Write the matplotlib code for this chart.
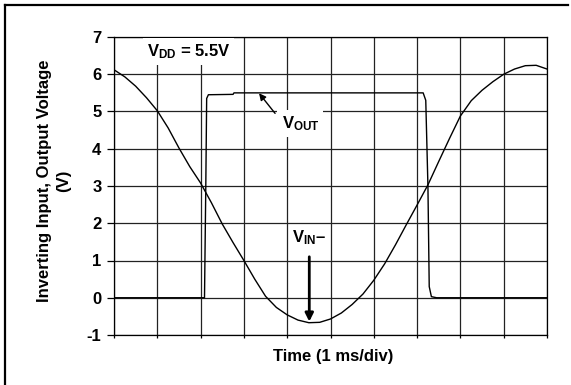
import matplotlib.pyplot as plt
from matplotlib.lines import Line2D

plt.rcParams['font.family'] = 'Liberation Sans'
plt.rcParams['font.weight'] = 'bold'
plt.rcParams['axes.unicode_minus'] = False
plt.rcParams['mathtext.fontset'] = 'custom'
plt.rcParams['mathtext.rm'] = 'Liberation Sans:bold'
plt.rcParams['mathtext.it'] = 'Liberation Sans:bold'
plt.rcParams['mathtext.bf'] = 'Liberation Sans:bold'

# inverting input (sine), time in divisions
time_in = [0.00, 0.25, 0.50, 0.75, 1.00, 1.25, 1.50, 1.75, 2.00, 2.25,
           2.50, 2.75, 3.00, 3.25, 3.50, 3.75, 4.00, 4.25, 4.50, 4.75,
           5.00, 5.25, 5.50, 5.75, 6.00, 6.25, 6.50, 6.75, 7.00, 7.25,
           7.50, 7.75, 8.00, 8.25, 8.50, 8.75, 9.00, 9.25, 9.50, 9.75, 10.00]
v_in = [6.12, 5.93, 5.68, 5.37, 5.02, 4.56, 4.02, 3.52, 3.08, 2.55,
        1.98, 1.48, 1.00, 0.50, 0.04, -0.26, -0.46, -0.60, -0.67, -0.66,
        -0.57, -0.41, -0.18, 0.10, 0.47, 0.91, 1.42, 1.96, 2.49, 3.03,
        3.66, 4.28, 4.88, 5.29, 5.57, 5.80, 6.00, 6.14, 6.23, 6.24, 6.14]

# output voltage (square)
time_out = [0, 2.09, 2.12, 2.14, 2.18, 2.75, 2.77, 7.14, 7.20, 7.25, 7.28, 7.33, 7.45, 10]
v_out = [0, 0, 3.0, 5.35, 5.45, 5.46, 5.5, 5.5, 5.3, 3.0, 0.3, 0.03, 0, 0]

y_ticks = [-1, 0, 1, 2, 3, 4, 5, 6, 7]
x_divs = list(range(11))

fig = plt.figure(figsize=(5.71, 3.85), dpi=100)
ax = fig.add_axes([114 / 571, 1 - 335 / 385, 433 / 571, 298 / 385])

ax.plot(time_in, v_in, color='black', lw=1, zorder=3)
ax.plot(time_out, v_out, color='black', lw=1, zorder=3)

ax.set_xlim(0, 10)
ax.set_ylim(-1, 7)
ax.set_xticks(x_divs)
ax.set_xticklabels([])
ax.set_yticks(y_ticks)
ax.grid(True, color='#222222', lw=0.9)
ax.set_axisbelow(True)
for s in ax.spines.values():
    s.set_linewidth(0.9)
ax.tick_params(axis='y', length=5, width=0.9, pad=4, labelsize=12)
ax.tick_params(axis='x', length=2, width=0.9)

fig.text(54 / 571, 1 - 181 / 385, 'Inverting Input, Output Voltage\n(V)',
         rotation=90, ha='center', va='center', multialignment='center',
         fontsize=12, fontweight='bold', linespacing=1.3)
fig.text(333 / 571, 1 - 357 / 385, 'Time (1 ms/div)', ha='center', va='center',
         fontsize=12, fontweight='bold')

box = dict(boxstyle='square,pad=0.25', fc='white', ec='none')
ax.text(0.755, 6.6, r'$\mathrm{V_{DD}}$ = 5.5V', ha='left', va='center',
        fontsize=12, fontweight='bold', bbox=box, zorder=4)
ax.text(3.87, 4.68, r'$\mathrm{V_{OUT}}$', ha='left', va='center',
        fontsize=12, fontweight='bold', bbox=box, zorder=4)
ax.annotate('', xy=(3.35, 5.49), xytext=(3.72, 4.95),
            arrowprops=dict(arrowstyle='-|>', color='black', lw=1,
                            mutation_scale=10, shrinkA=0, shrinkB=0), zorder=5)
ax.text(4.10, 1.62, r'$\mathrm{V_{IN}}$' + '\u2013', ha='left', va='center',
        fontsize=12, fontweight='bold', zorder=4)
ax.annotate('', xy=(4.51, -0.64), xytext=(4.51, 1.10),
            arrowprops=dict(arrowstyle='-|>', color='black', lw=2,
                            mutation_scale=12, shrinkA=0, shrinkB=0), zorder=5)

# frame around the chart
fig.add_artist(Line2D([5 / 571, 568 / 571], [1 - 5 / 385, 1 - 5 / 385],
                      color='black', lw=1.6))
fig.add_artist(Line2D([5 / 571, 5 / 571], [1 - 5 / 385, 0],
                      color='black', lw=1.6))

fig.savefig('out.png', dpi=100)
